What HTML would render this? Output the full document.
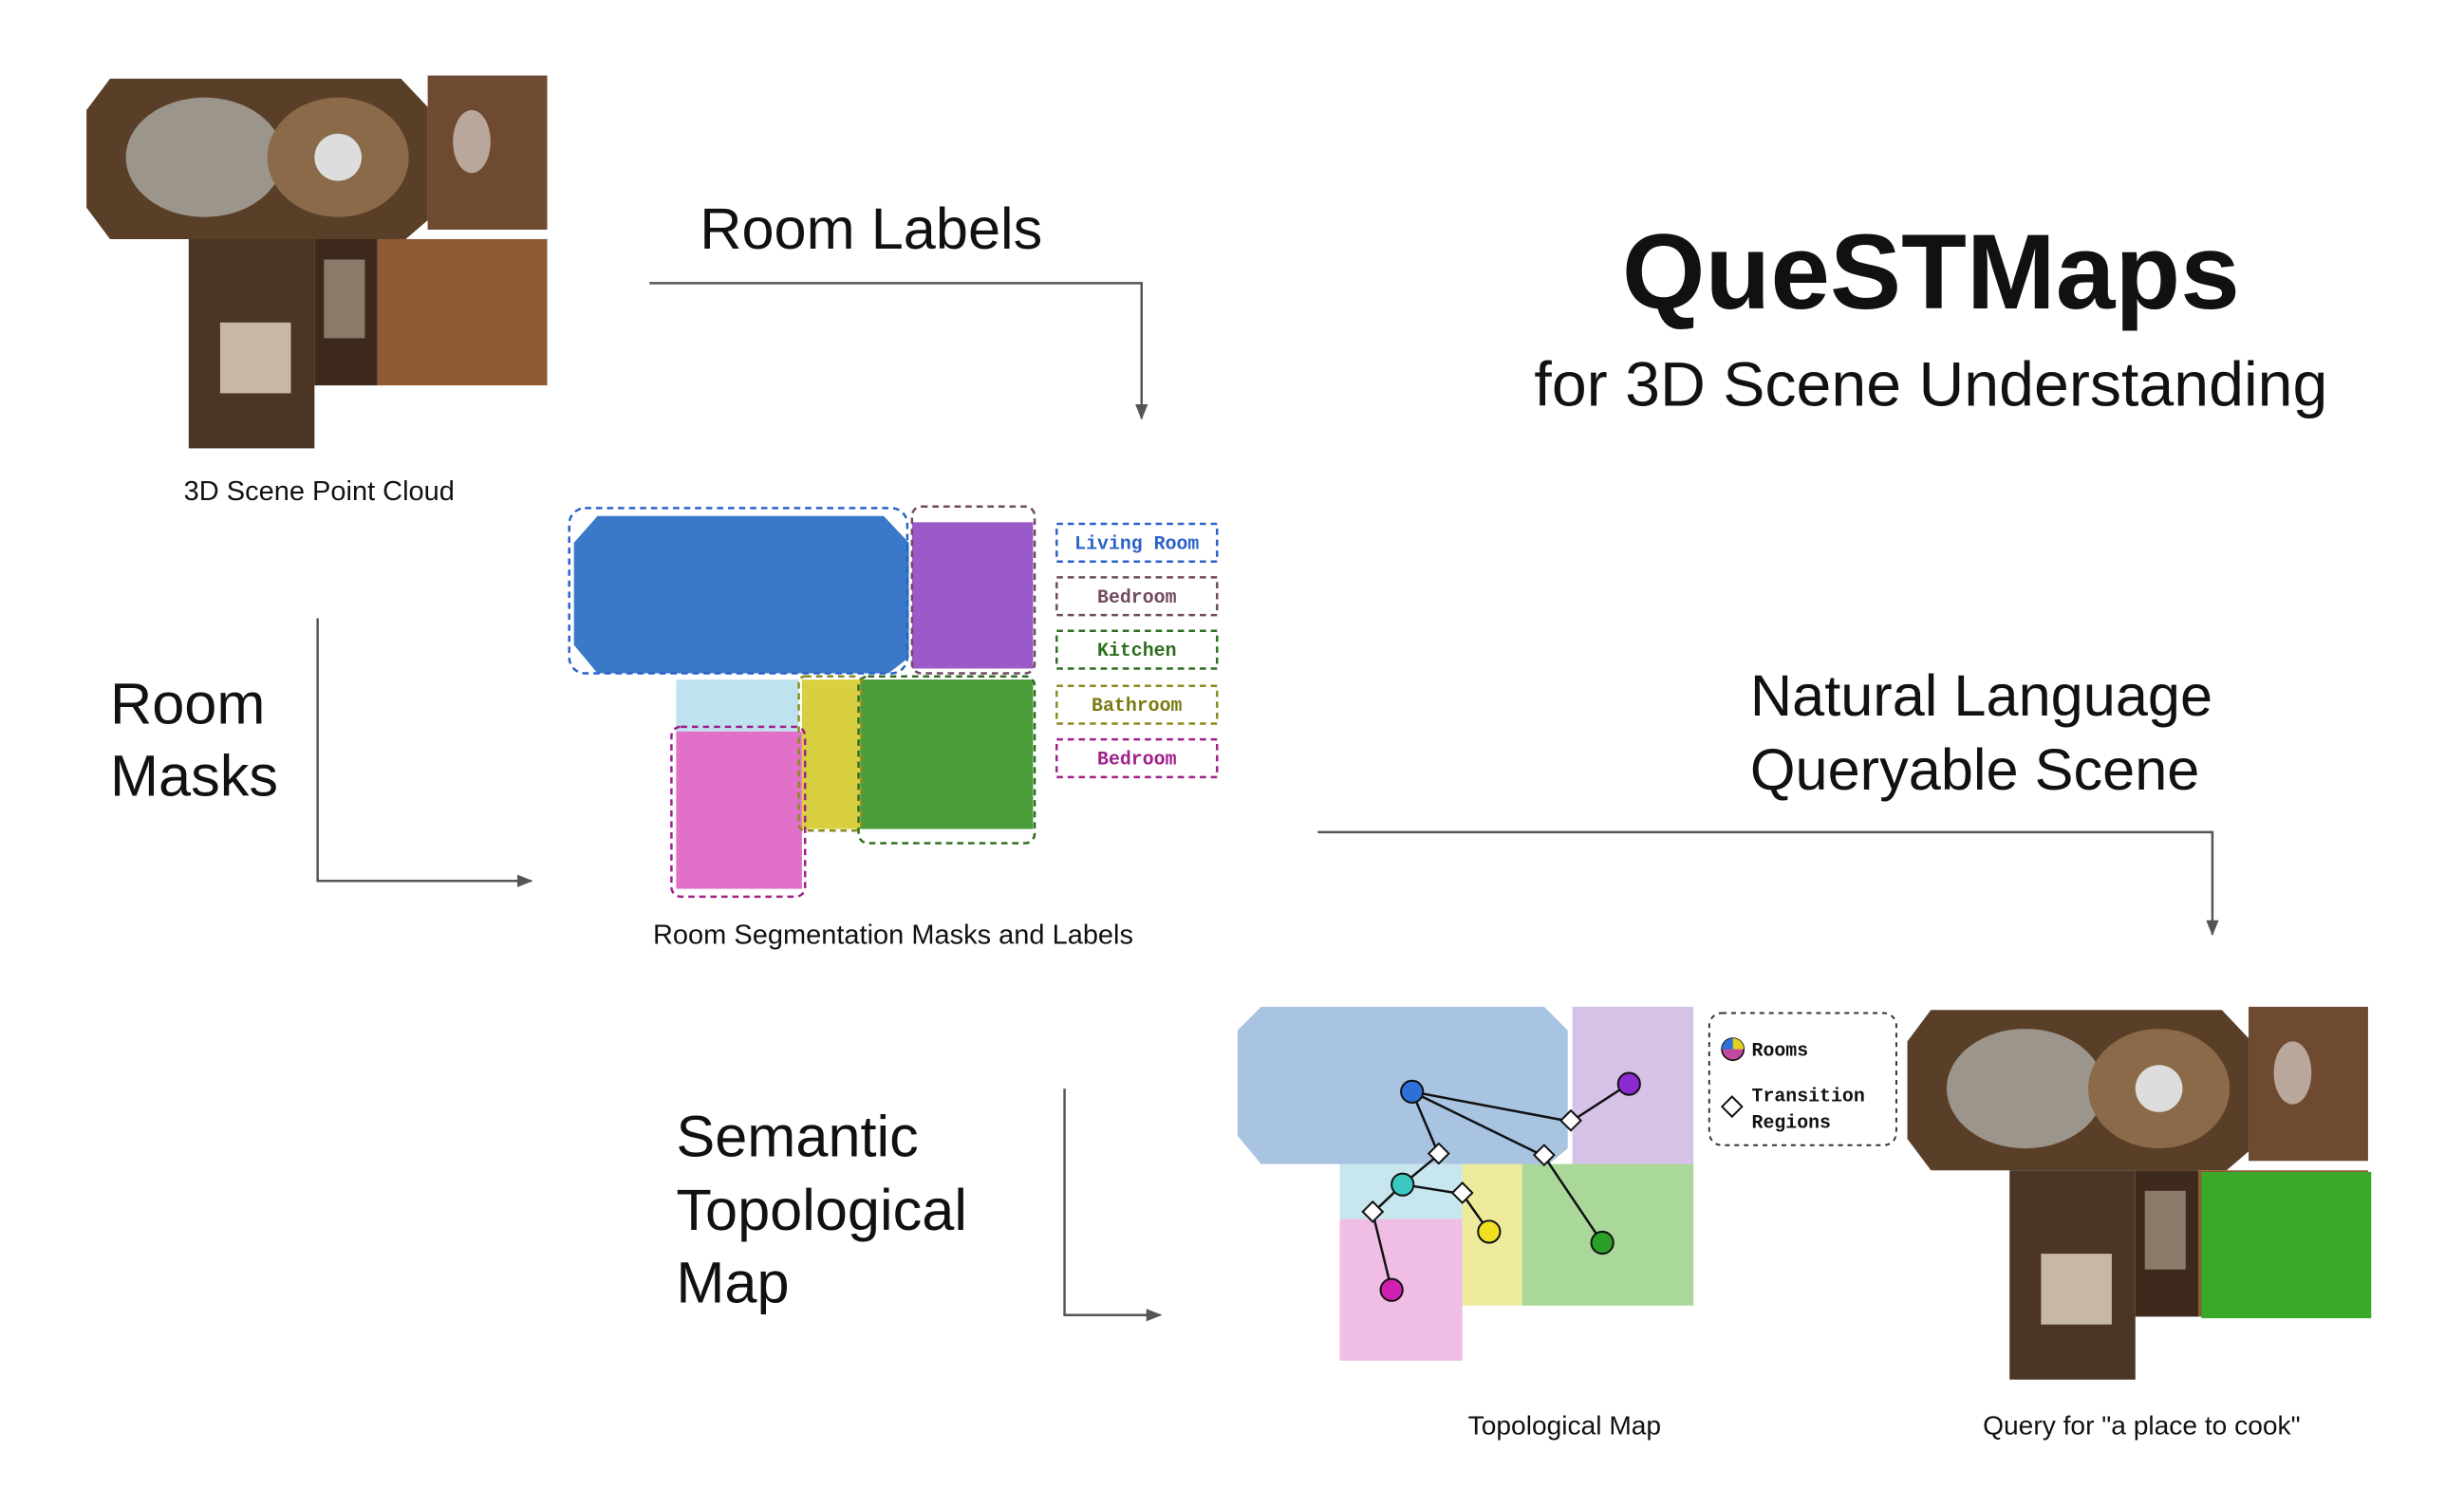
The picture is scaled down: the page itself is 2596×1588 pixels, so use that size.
<!DOCTYPE html>
<html><head><meta charset="utf-8"><style>
html,body{margin:0;padding:0;background:#fff;width:2596px;height:1588px;overflow:hidden}
svg{display:block}
.s{font-family:"Liberation Sans",sans-serif;fill:#111}
.m{font-family:"Liberation Mono",monospace;font-weight:bold;font-size:12px}
</style></head><body>
<svg width="2596" height="1588" viewBox="0 0 1567 958" preserveAspectRatio="none" xmlns="http://www.w3.org/2000/svg">
<defs>
<marker id="ah" markerWidth="10" markerHeight="10" refX="9" refY="5" orient="auto" markerUnits="userSpaceOnUse">
<path d="M0,1 L10,5 L0,9 Z" fill="#555"/></marker>
<g id="plan">
<polygon points="70,50 255,50 272,68 272,140 258,152 70,152 55,132 55,70" fill="#5a3f28"/>
<ellipse cx="130" cy="100" rx="50" ry="38" fill="#9c958c"/>
<ellipse cx="215" cy="100" rx="45" ry="38" fill="#8a6a48"/>
<circle cx="215" cy="100" r="15" fill="#ddd"/>
<rect x="272" y="48" width="76" height="98" fill="#6e4a30"/>
<ellipse cx="300" cy="90" rx="12" ry="20" fill="#b8a79a"/>
<rect x="120" y="152" width="80" height="133" fill="#4b3524"/>
<rect x="140" y="205" width="45" height="45" fill="#c7b8a3"/>
<rect x="200" y="152" width="40" height="93" fill="#3e2a1c"/>
<rect x="206" y="165" width="26" height="50" fill="#8a7a6a"/>
<rect x="240" y="152" width="108" height="93" fill="#8d5a33"/>
</g>
</defs>

<use href="#plan"/>
<text class="s" x="203" y="318" font-size="17.5" text-anchor="middle">3D Scene Point Cloud</text>

<text class="s" x="445" y="158" font-size="37">Room Labels</text>
<polyline points="413,180 726,180 726,266" fill="none" stroke="#555" stroke-width="1.5" marker-end="url(#ah)"/>

<text class="s" x="1228" y="196" font-size="68" font-weight="bold" text-anchor="middle">QueSTMaps</text>
<text class="s" x="1228" y="258" font-size="40" text-anchor="middle">for 3D Scene Understanding</text>

<text class="s" x="70" y="460" font-size="37">Room</text>
<text class="s" x="70" y="506" font-size="37">Masks</text>
<polyline points="202,393 202,560 338,560" fill="none" stroke="#555" stroke-width="1.5" marker-end="url(#ah)"/>

<g>
<polygon points="380,328 562,328 578,345 578,418 565,428 380,428 365,410 365,345" fill="#3a78c8"/>
<rect x="580" y="332" width="77" height="93" fill="#9a5ac8"/>
<rect x="430" y="432" width="78" height="33" fill="#bfe3ee"/>
<rect x="430" y="465" width="80" height="100" fill="#e070c8"/>
<rect x="510" y="432" width="37" height="95" fill="#d8d040"/>
<rect x="547" y="432" width="110" height="95" fill="#4a9e3a"/>
<g fill="none" stroke-dasharray="4,3" stroke-width="1.5">
<rect x="362" y="323" width="215" height="105" rx="10" stroke="#2a62c8"/>
<rect x="580" y="322" width="78" height="106" rx="6" stroke="#704a60"/>
<rect x="546" y="430" width="112" height="106" rx="6" stroke="#2e6e20"/>
<rect x="508" y="430" width="40" height="98" rx="4" stroke="#8a8a20"/>
<rect x="427" y="462" width="85" height="108" rx="6" stroke="#a0208a"/>
<rect x="672" y="333" width="102" height="24" stroke="#2a62c8"/>
<rect x="672" y="367" width="102" height="24" stroke="#704a60"/>
<rect x="672" y="401" width="102" height="24" stroke="#2e6e20"/>
<rect x="672" y="436" width="102" height="24" stroke="#8a8a20"/>
<rect x="672" y="470" width="102" height="24" stroke="#a0208a"/>
</g>
<text class="m" x="723" y="349" text-anchor="middle" fill="#2a62c8">Living Room</text>
<text class="m" x="723" y="383" text-anchor="middle" fill="#704a60">Bedroom</text>
<text class="m" x="723" y="417" text-anchor="middle" fill="#2e6e20">Kitchen</text>
<text class="m" x="723" y="452" text-anchor="middle" fill="#7a7a10">Bathroom</text>
<text class="m" x="723" y="486" text-anchor="middle" fill="#a0208a">Bedroom</text>
</g>
<text class="s" x="568" y="600" font-size="17.5" text-anchor="middle">Room Segmentation Masks and  Labels</text>

<text class="s" x="1113" y="455" font-size="37">Natural Language</text>
<text class="s" x="1113" y="502" font-size="37">Queryable Scene</text>
<polyline points="838,529 1407,529 1407,594" fill="none" stroke="#555" stroke-width="1.5" marker-end="url(#ah)"/>

<text class="s" x="430" y="735" font-size="37">Semantic</text>
<text class="s" x="430" y="782" font-size="37">Topological</text>
<text class="s" x="430" y="828" font-size="37">Map</text>
<polyline points="677,692 677,836 738,836" fill="none" stroke="#555" stroke-width="1.5" marker-end="url(#ah)"/>

<g>
<polygon points="802,640 982,640 997,655 997,730 985,740 802,740 787,722 787,655" fill="#a9c4e0"/>
<rect x="1000" y="640" width="77" height="100" fill="#d6c2e6"/>
<rect x="852" y="740" width="78" height="35" fill="#c8e6ee"/>
<rect x="852" y="775" width="78" height="90" fill="#f0bde4"/>
<rect x="930" y="740" width="38" height="90" fill="#eeea9c"/>
<rect x="968" y="740" width="109" height="90" fill="#aad89a"/>
<g stroke="#111" stroke-width="1.5" fill="none">
<polyline points="898,694 999,713 1036,689"/>
<polyline points="898,694 915,734 892,753"/>
<polyline points="898,694 982,735 1019,790"/>
<polyline points="892,753 873,771 885,820"/>
<polyline points="892,753 930,759 947,783"/>
</g>
<g stroke="#111" stroke-width="1.2">
<circle cx="898" cy="694" r="7" fill="#2f6fd8"/>
<circle cx="1036" cy="689" r="7" fill="#8a2ad0"/>
<circle cx="892" cy="753" r="7" fill="#3ac8c0"/>
<circle cx="947" cy="783" r="7" fill="#f0e020"/>
<circle cx="1019" cy="790" r="7" fill="#2aa02a"/>
<circle cx="885" cy="820" r="7" fill="#d020b0"/>
<g fill="#fff">
<rect x="994" y="708" width="9" height="9" transform="rotate(45 999 713)"/>
<rect x="910" y="729" width="9" height="9" transform="rotate(45 915 734)"/>
<rect x="977" y="730" width="9" height="9" transform="rotate(45 982 735)"/>
<rect x="868" y="766" width="9" height="9" transform="rotate(45 873 771)"/>
<rect x="925" y="754" width="9" height="9" transform="rotate(45 930 759)"/>
</g>
</g>
<rect x="1087" y="644" width="119" height="84" rx="8" fill="#fff" stroke="#333" stroke-dasharray="3,3" stroke-width="1.2"/>
<circle cx="1102" cy="667" r="7" fill="#c04aa0" stroke="#111"/>
<path d="M1102,660 A7,7 0 0 1 1109,667 L1102,667 Z" fill="#e0d020"/>
<path d="M1102,660 A7,7 0 0 0 1095,667 L1102,667 Z" fill="#2f6fd8"/>
<text class="m" x="1114" y="671" fill="#111">Rooms</text>
<rect x="1097" y="699" width="9" height="9" fill="#fff" stroke="#111" stroke-width="1.2" transform="rotate(45 1101.5 703.5)"/>
<text class="m" x="1114" y="700" fill="#111">Transition</text>
<text class="m" x="1114" y="717" fill="#111">Regions</text>
</g>
<text class="s" x="995" y="912" font-size="17" text-anchor="middle">Topological Map</text>

<g transform="translate(1158,592)"><use href="#plan"/></g>
<rect x="1400" y="745" width="108" height="93" fill="#3aa828"/>
<text class="s" x="1362" y="912" font-size="17" text-anchor="middle">Query for "a place to cook"</text>
</svg>
</body></html>
